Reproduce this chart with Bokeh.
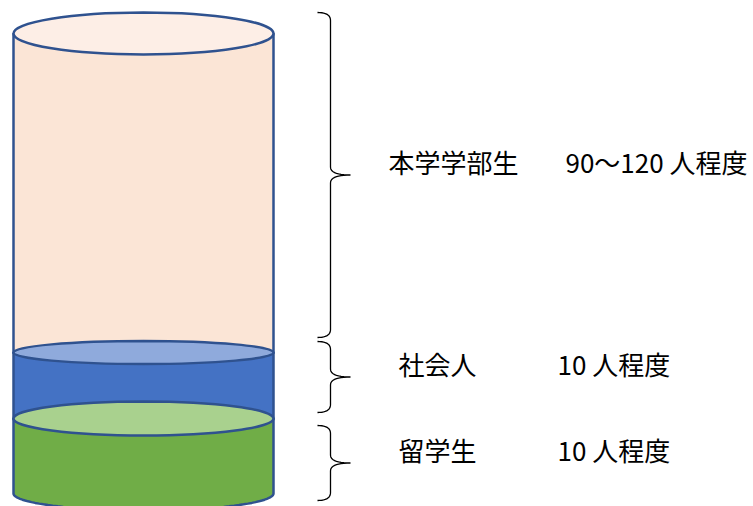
import numpy as np
from bokeh.plotting import figure
from bokeh.models import Range1d, ColumnDataSource
from bokeh.core.properties import value
from bokeh.embed import file_html
from bokeh.resources import INLINE

# ---- data (bottom to top) ----
groups = ["留学生", "社会人", "本学学部生"]
counts = ["10 人程度", "10 人程度", "90〜120 人程度"]
heights = [75, 66, 319]          # schematic segment heights (chart units)

# ---- styles ----
side_colors = ["#70AD47", "#4472C4", "#FBE5D6"]
cap_colors = ["#A9D18E", "#8FAADC", "#FDEEE6"]
cap_ry = [17, 11.5, 21]          # half-height of each segment's top ellipse
bottom_ry = 17
edge = "#2F528F"

W, H = 753, 506
base = 13
cx, rx = 143, 130

p = figure(width=W, height=H, output_backend="svg", toolbar_location=None,
           x_range=Range1d(0, W), y_range=Range1d(0, H), min_border=0)
p.axis.visible = False
p.grid.visible = False
p.outline_line_color = None
p.background_fill_color = "white"

bounds = np.concatenate([[base], base + np.cumsum(heights)])

# draw from top segment down so lower caps overlap upper bodies
for i in reversed(range(len(heights))):
    yb, yt = bounds[i], bounds[i + 1]
    rb = cap_ry[i - 1] if i > 0 else bottom_ry
    t = np.linspace(0, np.pi, 60)
    xs = [cx - rx, cx - rx] + list(cx - rx * np.cos(t)) + [cx + rx, cx + rx]
    ys = [yt, yb] + list(yb - rb * np.sin(t)) + [yb, yt]
    p.patch(xs, ys, fill_color=side_colors[i], line_color=edge, line_width=2.5)
    p.ellipse(x=cx, y=yt, width=2 * rx, height=2 * cap_ry[i],
              fill_color=cap_colors[i], line_color=edge, line_width=2.5)

# ---- braces ----
brace_pad = [(-7, -7), (6, 11), (15, 21)]
spine_x, hook_x, tip_x, r = 330, 317, 350, 8


def qbez(p0, p1, p2, n=12):
    s = np.linspace(0, 1, n)
    x = (1 - s) ** 2 * p0[0] + 2 * (1 - s) * s * p1[0] + s ** 2 * p2[0]
    y = (1 - s) ** 2 * p0[1] + 2 * (1 - s) * s * p1[1] + s ** 2 * p2[1]
    return list(x), list(y)


label_y = []
for i in range(len(heights)):
    lo = bounds[i] + brace_pad[i][0]
    hi = bounds[i + 1] + brace_pad[i][1]
    ym = (lo + hi) / 2
    xs, ys = [], []
    for seg in [qbez((hook_x, hi), (spine_x, hi), (spine_x, hi - r)),
                ([spine_x, spine_x], [hi - r, ym + r]),
                qbez((spine_x, ym + r), (spine_x, ym), (tip_x, ym)),
                qbez((tip_x, ym), (spine_x, ym), (spine_x, ym - r)),
                ([spine_x, spine_x], [ym - r, lo + r]),
                qbez((spine_x, lo + r), (spine_x, lo), (hook_x, lo))]:
        xs += list(seg[0])
        ys += list(seg[1])
    p.line(xs, ys, line_color="black", line_width=1.3)
    label_y.append(ym + 14)

name_x = [398, 398, 388]
count_x = [557, 557, 565]
src = ColumnDataSource(dict(name=groups, cnt=counts, nx=name_x, cx=count_x, y=label_y))
p.text(x="nx", y="y", text="name", source=src, text_font=value("Noto Sans CJK JP"),
       text_font_size="26px", text_baseline="middle", text_align="left", text_color="black")
p.text(x="cx", y="y", text="cnt", source=src, text_font=value("Noto Sans CJK JP"),
       text_font_size="26px", text_baseline="middle", text_align="left", text_color="black")

open("out.html", "w").write(file_html(p, INLINE))
